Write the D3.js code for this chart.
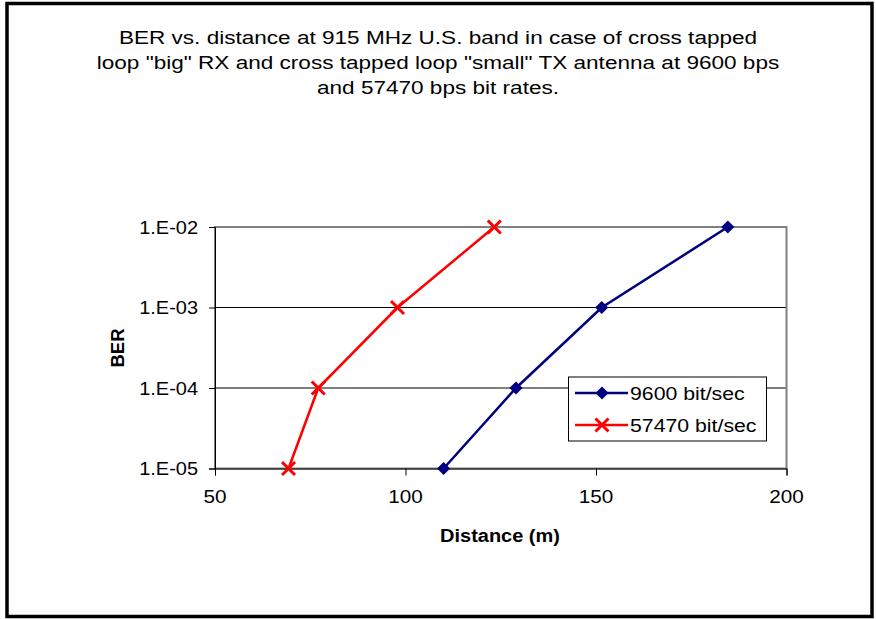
<!DOCTYPE html>
<html><head><meta charset="utf-8">
<script src="https://cdn.jsdelivr.net/npm/d3@7"></script>
<style>body{margin:0;background:#fff}svg{display:block;font-family:"Liberation Sans",Arial,sans-serif}</style>
</head><body><svg id="c" width="876" height="619"></svg>
<script>
const titleLines = ["BER vs. distance at 915 MHz U.S. band in case of cross tapped",
  "loop \"big\" RX and cross tapped loop \"small\" TX antenna at 9600 bps",
  "and 57470 bps bit rates."];
const berLevels = [1e-5, 1e-4, 1e-3, 1e-2];
const yTickLabels = ["1.E-05", "1.E-04", "1.E-03", "1.E-02"];
const xTicks = [50, 100, 150, 200];
const dist9600 = [110, 129, 151.5, 184.6];
const dist57470 = [69.3, 77.1, 97.9, 123.3];
const seriesNames = ["9600 bit/sec", "57470 bit/sec"];
const seriesColors = ["#000080", "#ff0000"];

const svg = d3.select("#c");
const L = 215, R = 786.5, T = 227, B = 468.5;
const x = d3.scaleLinear().domain([50, 200]).range([L, R]);
const y = d3.scaleLog().domain([1e-5, 1e-2]).range([B, T]);
const FS = 18.5;

// outer border
svg.append("rect").attr("x", 7).attr("y", 3.5).attr("width", 865).attr("height", 613)
  .attr("fill", "#fff").attr("stroke", "#000").attr("stroke-width", 3.5);

function stext(g, tx, ty, txt, opts) {
  const o = Object.assign({size: FS, sx: 1.1, anchor: "start", weight: "normal", rot: 0}, opts || {});
  return g.append("text")
    .attr("transform", `translate(${tx},${ty}) rotate(${o.rot}) scale(${o.sx},1)`)
    .attr("text-anchor", o.anchor).attr("font-size", o.size).attr("font-weight", o.weight)
    .attr("fill", "#000").text(txt);
}

// title
const tg = svg.append("g");
titleLines.forEach((t, i) => stext(tg, 438, 44 + i * 25, t, {anchor: "middle", sx: 1.22}));

// gridlines
svg.append("g").selectAll("line").data(berLevels).join("line")
  .attr("x1", L).attr("x2", R).attr("y1", d => y(d)).attr("y2", d => y(d))
  .attr("stroke", "#000").attr("stroke-width", 1);

// plot border
svg.append("rect").attr("x", L).attr("y", T).attr("width", R - L).attr("height", B - T)
  .attr("fill", "none").attr("stroke", "#808080").attr("stroke-width", 2);

// axes
const xAxis = d3.axisBottom(x).tickValues(xTicks).tickSize(7).tickFormat("");
const gx = svg.append("g").attr("transform", `translate(0,${B})`).call(xAxis);
gx.select(".domain").attr("stroke", "#000");
gx.selectAll("line").attr("stroke", "#000");
xTicks.forEach(v => stext(svg, x(v), 503, d3.format("d")(v), {anchor: "middle", sx: 1.12}));

const yAxis = d3.axisLeft(y).tickValues(berLevels).tickSize(6).tickFormat("");
const gy = svg.append("g").attr("transform", `translate(${L},0)`).call(yAxis);
gy.select(".domain").attr("stroke", "#000");
gy.selectAll("line").attr("stroke", "#000");
berLevels.forEach((v, i) => stext(svg, 198, y(v) + 6.6, yTickLabels[i], {anchor: "end", sx: 1.08}));

// axis titles
stext(svg, 500, 541.5, "Distance (m)", {anchor: "middle", weight: "bold", sx: 1.08});
stext(svg, 124, 348, "BER", {anchor: "middle", weight: "bold", sx: 1.0, rot: -90});

// series
const line = d3.line().x(d => x(d[0])).y(d => y(d[1]));
const s1 = dist9600.map((d, i) => [d, berLevels[i]]);
const s2 = dist57470.map((d, i) => [d, berLevels[i]]);
svg.append("path").datum(s1).attr("d", line).attr("fill", "none").attr("stroke", seriesColors[0]).attr("stroke-width", 2.5);
svg.append("path").datum(s2).attr("d", line).attr("fill", "none").attr("stroke", seriesColors[1]).attr("stroke-width", 2.5);

const diamond = d3.symbol().type(d3.symbolDiamond2).size(110);
function drawDiamond(g, cx, cy) {
  g.append("path").attr("d", diamond()).attr("transform", `translate(${cx},${cy})`).attr("fill", seriesColors[0]);
}
function drawCross(g, cx, cy) {
  const s = 6.5;
  g.append("path").attr("d", `M${cx - s},${cy - s}L${cx + s},${cy + s}M${cx - s},${cy + s}L${cx + s},${cy - s}`)
    .attr("stroke", seriesColors[1]).attr("stroke-width", 3).attr("fill", "none");
}
const mk = svg.append("g");
s1.forEach(d => drawDiamond(mk, x(d[0]), y(d[1])));
s2.forEach(d => drawCross(mk, x(d[0]), y(d[1])));

// legend
const lg = svg.append("g");
lg.append("rect").attr("x", 568.5).attr("y", 377).attr("width", 198).attr("height", 64)
  .attr("fill", "#fff").attr("stroke", "#000").attr("stroke-width", 1);
const ly = [393, 425];
seriesNames.forEach((n, i) => {
  lg.append("line").attr("x1", 575).attr("x2", 628).attr("y1", ly[i]).attr("y2", ly[i])
    .attr("stroke", seriesColors[i]).attr("stroke-width", 2.5);
  if (i === 0) drawDiamond(lg, 602, ly[i]); else drawCross(lg, 602, ly[i]);
  stext(lg, 630, ly[i] + 6.6, n, {sx: 1.15});
});
</script></body></html>
